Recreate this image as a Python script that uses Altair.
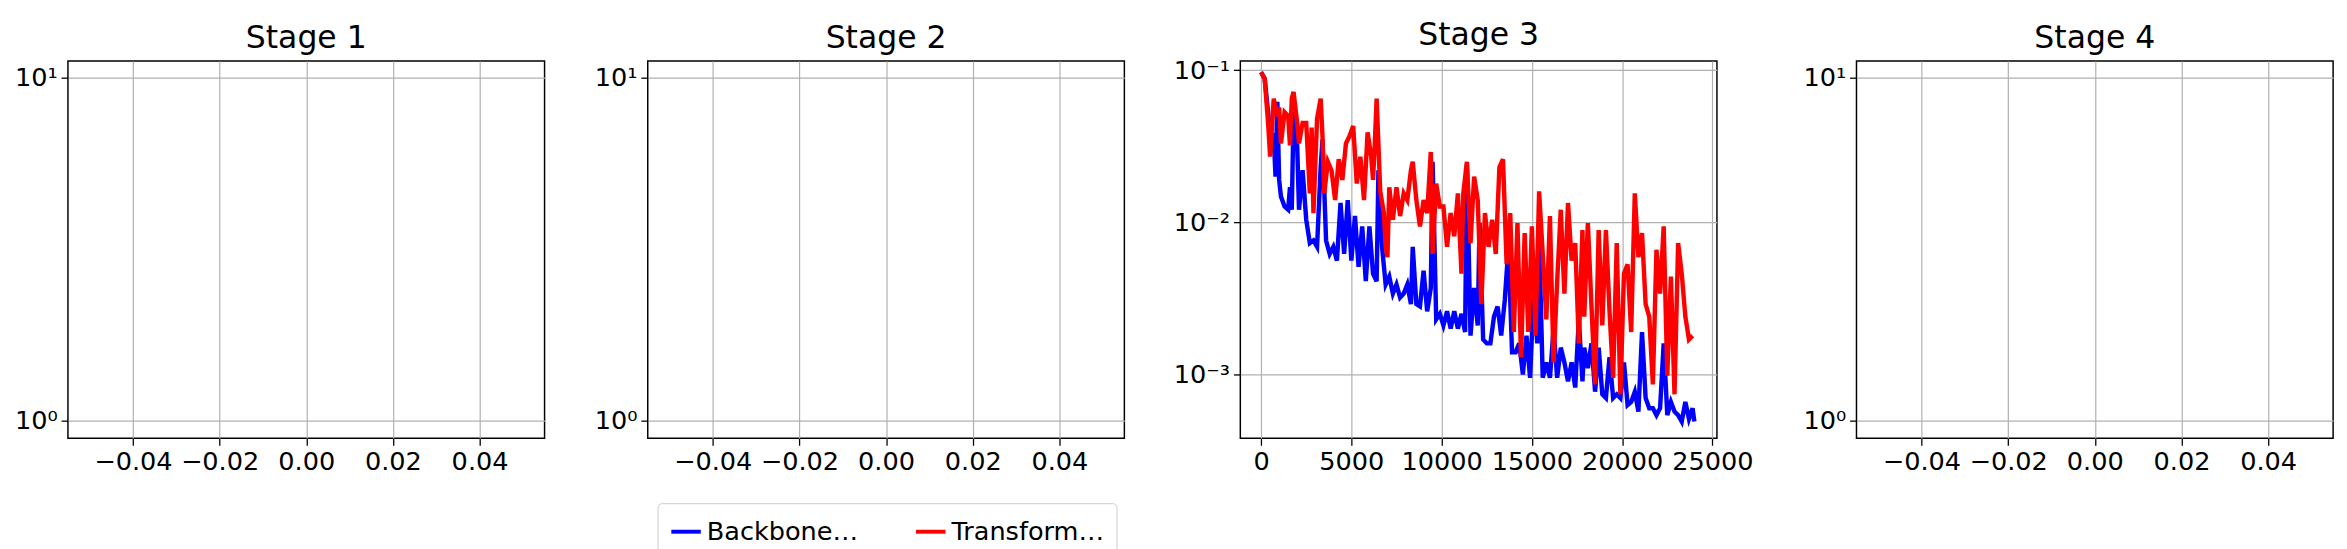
import altair as alt
import pandas as pd

blue_steps = [0,200,500,700,800,900,1000,1100,1300,1500,1600,1700,1800,2000,2100,2300,2500,2700,2900,3100,3300,3400,3600,3800,4000,4200,4400,4600,4800,5000,5200,5400,5600,5800,6000,6200,6400,6500,6700,6900,7100,7300,7500,7700,7900,8100,8300,8400,8600,8800,9000,9200,9400,9500,9700,9900,10100,10300,10500,10700,10900,11100,11300,11400,11600,11800,12000,12100,12300,12500,12700,12900,13100,13300,13500,13700,13900,14100,14300,14500,14700,14900,15100,15300,15400,15600,15800,16000,16200,16400,16600,16800,17000,17200,17400,17600,17800,17900,18100,18300,18500,18700,18900,19100,19300,19500,19700,19900,20100,20300,20500,20700,20900,21100,21300,21500,21700,21900,22100,22300,22500,22700,22900,23100,23300,23500,23700,23900,24000]
blue_vals = [0.097,0.088,0.039,0.037,0.020,0.062,0.019,0.0148,0.0127,0.0121,0.017,0.0121,0.053,0.032,0.0121,0.022,0.0104,0.0073,0.0076,0.0069,0.023,0.035,0.0076,0.0062,0.0069,0.0056,0.0134,0.0062,0.014,0.0056,0.011,0.0051,0.0094,0.0041,0.0094,0.0046,0.0041,0.022,0.0069,0.0039,0.0044,0.0034,0.0039,0.0032,0.0034,0.0039,0.0029,0.0069,0.0029,0.0028,0.0048,0.0026,0.0037,0.025,0.0023,0.0025,0.0021,0.0026,0.0020,0.0026,0.0020,0.0025,0.0019,0.024,0.0018,0.0037,0.0021,0.0099,0.0017,0.0016,0.0016,0.0024,0.0028,0.0018,0.0031,0.0069,0.0014,0.0014,0.0016,0.0010,0.0018,0.00095,0.0034,0.0016,0.0081,0.00095,0.0012,0.00095,0.0020,0.00095,0.0015,0.0012,0.00090,0.0012,0.00082,0.0023,0.00090,0.0015,0.0011,0.0016,0.00077,0.0015,0.00074,0.00070,0.0013,0.00070,0.00074,0.00070,0.0012,0.00063,0.00066,0.00077,0.00057,0.0019,0.00070,0.00060,0.00060,0.00054,0.00060,0.0016,0.00054,0.00066,0.00057,0.00054,0.00049,0.00066,0.00051,0.00060,0.00049]

red_steps = [0,200,400,500,700,900,1000,1100,1300,1500,1600,1700,1800,2000,2100,2300,2500,2700,2800,2900,3100,3300,3400,3500,3700,3900,4100,4300,4500,4700,4900,5100,5300,5500,5700,5900,6100,6200,6300,6400,6600,6800,6900,7000,7100,7300,7500,7700,7900,8100,8300,8400,8600,8800,9000,9200,9400,9500,9700,9900,10100,10300,10500,10700,10900,11100,11200,11400,11600,11800,12000,12200,12400,12600,12800,13000,13200,13400,13600,13800,14000,14200,14400,14600,14800,15000,15200,15400,15600,15800,16000,16200,16400,16600,16800,17000,17200,17400,17600,17800,17900,18100,18300,18500,18700,18900,19100,19300,19500,19700,19900,20100,20300,20500,20700,20900,21100,21300,21500,21700,21900,22100,22300,22500,22700,22900,23100,23300,23500,23700,23900,24000]
red_vals = [0.097,0.088,0.043,0.027,0.065,0.050,0.057,0.033,0.053,0.050,0.032,0.065,0.072,0.045,0.033,0.045,0.045,0.0155,0.042,0.0115,0.048,0.065,0.037,0.0155,0.025,0.022,0.014,0.026,0.019,0.033,0.037,0.043,0.018,0.027,0.014,0.039,0.027,0.019,0.033,0.065,0.016,0.0115,0.0069,0.0059,0.017,0.0104,0.017,0.011,0.0155,0.014,0.022,0.025,0.014,0.0094,0.014,0.0115,0.029,0.0062,0.018,0.0127,0.0127,0.0069,0.0115,0.0081,0.0155,0.0046,0.0155,0.025,0.0073,0.020,0.014,0.0029,0.0115,0.0069,0.0104,0.0062,0.023,0.026,0.0053,0.0115,0.0019,0.0099,0.0013,0.0085,0.0019,0.0094,0.0018,0.016,0.0062,0.0023,0.011,0.0012,0.0041,0.0121,0.0034,0.0134,0.0056,0.0073,0.0016,0.0089,0.0024,0.0099,0.0028,0.00086,0.0089,0.0021,0.0089,0.0026,0.00095,0.0073,0.00074,0.0046,0.0053,0.0019,0.0155,0.0059,0.0085,0.0029,0.0024,0.00086,0.0066,0.0034,0.0094,0.00098,0.0044,0.00074,0.0073,0.0046,0.0024,0.0017,0.0018]

stage_names = ["Stage 1", "Stage 2", "Stage 3", "Stage 4"]
series_names = ["Backbone Relative error", "Transformer+Backbone Relative L2 error"]
empty_x_ticks = [-0.04, -0.02, 0.0, 0.02, 0.04]
empty_y_ticks = [1, 10]
s3_x_ticks = [0, 5000, 10000, 15000, 20000, 25000]
s3_y_ticks = [0.001, 0.01, 0.1]

FONT = "DejaVu Sans"
W, H = 485, 384

nb = min(len(blue_steps), len(blue_vals))
nr = min(len(red_steps), len(red_vals))
df = pd.concat([
    pd.DataFrame({"step": blue_steps[:nb], "err": blue_vals[:nb], "series": series_names[0]}),
    pd.DataFrame({"step": red_steps[:nr], "err": red_vals[:nr], "series": series_names[1]}),
])

def empty_panel(title):
    d = pd.DataFrame({"x": [0.0], "y": [1.0]})
    return alt.Chart(d, title=title).mark_point(opacity=0).encode(
        x=alt.X("x:Q", scale=alt.Scale(domain=[-0.055, 0.055], nice=False, zero=False),
                axis=alt.Axis(values=empty_x_ticks, format=".2f", title=None,
                              labelExpr="replace(datum.label, '-', '−')")),
        y=alt.Y("y:Q", scale=alt.Scale(type="log", domain=[0.89, 11.2], nice=False),
                axis=alt.Axis(values=empty_y_ticks, title=None,
                              labelExpr="datum.value == 1 ? '10⁰' : '10¹'")),
    ).properties(width=W, height=H)

s3 = alt.Chart(df, title=stage_names[2]).mark_line(strokeWidth=4.5).encode(
    x=alt.X("step:Q", scale=alt.Scale(domain=[-1150, 25250], nice=False, zero=False),
            axis=alt.Axis(values=s3_x_ticks, format="d", title=None)),
    y=alt.Y("err:Q", scale=alt.Scale(type="log", domain=[0.00038, 0.115], nice=False),
            axis=alt.Axis(values=s3_y_ticks, title=None,
                          labelExpr="datum.value > 0.05 ? '10⁻¹' : (datum.value > 0.005 ? '10⁻²' : '10⁻³')")),
    color=alt.Color("series:N", scale=alt.Scale(domain=series_names, range=["#0000ff", "#ff0000"]),
                    legend=alt.Legend(title=None, orient="none", direction="horizontal",
                                      legendX=600, legendY=450, symbolType="stroke",
                                      symbolStrokeWidth=4, symbolSize=900, labelFontSize=26,
                                      labelFont=FONT, columnPadding=50, padding=12,
                                      strokeColor="#cccccc", cornerRadius=4, fillColor="white")),
).properties(width=W, height=H)

chart = alt.hconcat(empty_panel(stage_names[0]), empty_panel(stage_names[1]), s3,
                    empty_panel(stage_names[3]), spacing=48).configure_view(
    stroke="black", strokeWidth=1.5
).configure_axis(
    labelFont=FONT, labelFontSize=26, labelColor="black", grid=True, gridColor="#b0b0b0",
    gridWidth=1.2, domain=False, tickColor="black", tickSize=7, tickWidth=1.3, labelPadding=4
).configure_title(
    font=FONT, fontSize=32, fontWeight="normal", color="black", offset=6
).properties(background="white", padding={"left": 5, "top": 5, "right": 5, "bottom": 5})

chart.save("out.html", embed_options={"renderer": "svg", "actions": False})
